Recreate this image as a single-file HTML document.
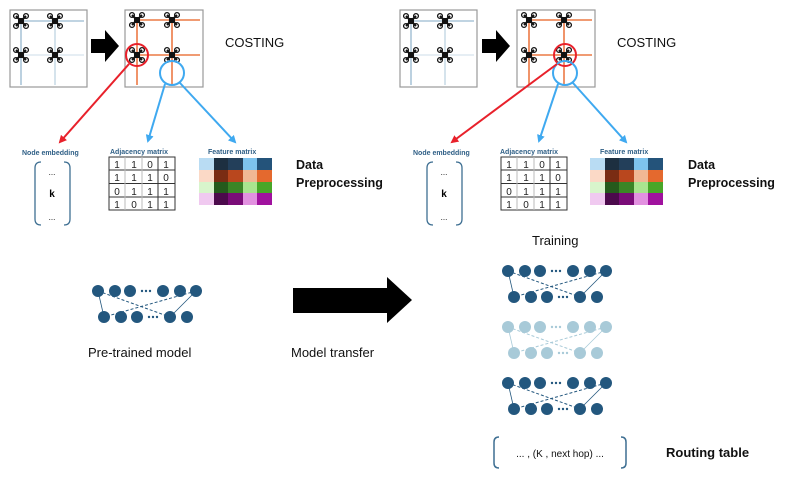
<!DOCTYPE html>
<html><head><meta charset="utf-8"><style>
html,body{margin:0;padding:0;background:#fff;}
svg{display:block;}
text{font-family:"Liberation Sans","DejaVu Sans",sans-serif;}
</style></head><body>
<svg width="786" height="480" viewBox="0 0 786 480" xmlns="http://www.w3.org/2000/svg">
<defs>
  <g id="drone">
    <line x1="-5" y1="-5" x2="5" y2="5" stroke="#111" stroke-width="2"/>
    <line x1="-5" y1="5" x2="5" y2="-5" stroke="#111" stroke-width="2"/>
    <rect x="-3" y="-3" width="6" height="6" fill="#111"/>
    <circle cx="-5" cy="-5" r="2.4" fill="none" stroke="#111" stroke-width="1.3"/>
    <circle cx="5" cy="-5" r="2.4" fill="none" stroke="#111" stroke-width="1.3"/>
    <circle cx="-5" cy="5" r="2.4" fill="none" stroke="#111" stroke-width="1.3"/>
    <circle cx="5" cy="5" r="2.4" fill="none" stroke="#111" stroke-width="1.3"/>
  </g>
  <marker id="ar" markerWidth="8" markerHeight="8" refX="6" refY="4" orient="auto" markerUnits="userSpaceOnUse"><path d="M0,0 L8,4 L0,8 z" fill="#e8212b"/></marker>
  <marker id="ab" markerWidth="8" markerHeight="8" refX="6" refY="4" orient="auto" markerUnits="userSpaceOnUse"><path d="M0,0 L8,4 L0,8 z" fill="#3fa9f0"/></marker>
  <g id="grid1">
    <rect x="0" y="0" width="77" height="77" fill="#fff" stroke="#999" stroke-width="1.2"/>
    <line x1="11" y1="11" x2="74" y2="11" stroke="#9bbad0" stroke-width="1.2"/>
    <line x1="11" y1="45" x2="74" y2="45" stroke="#d6e4ee" stroke-width="1.2"/>
    <line x1="11" y1="11" x2="11" y2="75" stroke="#8fb2cc" stroke-width="1.2"/>
    <line x1="45" y1="11" x2="45" y2="75" stroke="#b9d0e0" stroke-width="1.2"/>
    <use href="#drone" x="11" y="11"/><use href="#drone" x="45" y="11"/>
    <use href="#drone" x="11" y="45"/><use href="#drone" x="45" y="45"/>
  </g>
  <g id="grid2">
    <rect x="0" y="0" width="78" height="77" fill="#fff" stroke="#999" stroke-width="1.2"/>
    <line x1="12" y1="10" x2="75" y2="10" stroke="#ec7a45" stroke-width="1.6"/>
    <line x1="12" y1="45" x2="75" y2="45" stroke="#ec7a45" stroke-width="1.6"/>
    <line x1="12" y1="10" x2="12" y2="75" stroke="#ec7a45" stroke-width="1.6"/>
    <line x1="47" y1="10" x2="47" y2="75" stroke="#ec7a45" stroke-width="1.6"/>
    <use href="#drone" x="12" y="10"/><use href="#drone" x="47" y="10"/>
    <use href="#drone" x="12" y="45"/><use href="#drone" x="47" y="45"/>
  </g>
  <g id="bigarrow"><path d="M0,9 L14,9 L14,0 L28,16 L14,32 L14,23 L0,23 z" fill="#000"/></g>
  <g id="adj" font-size="10" fill="#222">
    <rect x="0" y="0" width="66" height="53" fill="#fff" stroke="#333" stroke-width="1"/>
    <line x1="0" y1="13" x2="66" y2="13" stroke="#333"/><line x1="0" y1="26.5" x2="66" y2="26.5" stroke="#333"/><line x1="0" y1="40" x2="66" y2="40" stroke="#333"/>
    <line x1="16" y1="0" x2="16" y2="53" stroke="#bbb"/><line x1="33" y1="0" x2="33" y2="53" stroke="#bbb"/><line x1="49" y1="0" x2="49" y2="53" stroke="#333"/>
  </g>
  <g id="feat">
    <rect x="0" y="0" width="15" height="12" fill="#b9dcf3"/><rect x="15" y="0" width="14" height="12" fill="#1d2f40"/><rect x="29" y="0" width="15" height="12" fill="#233f5a"/><rect x="44" y="0" width="14" height="12" fill="#7ec3ee"/><rect x="58" y="0" width="15" height="12" fill="#24537a"/>
    <rect x="0" y="12" width="15" height="12" fill="#fbd9c6"/><rect x="15" y="12" width="14" height="12" fill="#7a2c13"/><rect x="29" y="12" width="15" height="12" fill="#b9471e"/><rect x="44" y="12" width="14" height="12" fill="#f1b894"/><rect x="58" y="12" width="15" height="12" fill="#e4692e"/>
    <rect x="0" y="24" width="15" height="11" fill="#d8f5cc"/><rect x="15" y="24" width="14" height="11" fill="#255a1c"/><rect x="29" y="24" width="15" height="11" fill="#3b8526"/><rect x="44" y="24" width="14" height="11" fill="#a9e58f"/><rect x="58" y="24" width="15" height="11" fill="#48a628"/>
    <rect x="0" y="35" width="15" height="12" fill="#f0c9f0"/><rect x="15" y="35" width="14" height="12" fill="#4c0a4c"/><rect x="29" y="35" width="15" height="12" fill="#7a0c78"/><rect x="44" y="35" width="14" height="12" fill="#e291e0"/><rect x="58" y="35" width="15" height="12" fill="#a0129e"/>
  </g>
  <g id="bracket" fill="none" stroke="#3e6f92" stroke-width="1.3">
    <path d="M6,0 Q0,0 0,6 L0,57 Q0,63 6,63"/>
    <path d="M29,0 Q35,0 35,6 L35,57 Q35,63 29,63"/>
  </g>
  <g id="net">
    <line x1="0" y1="0" x2="6" y2="26" stroke="currentColor" stroke-width="0.8"/>
    <line x1="0" y1="0" x2="72" y2="26" stroke="currentColor" stroke-width="1" stroke-dasharray="3,2"/>
    <line x1="98" y1="0" x2="6" y2="26" stroke="currentColor" stroke-width="1" stroke-dasharray="3,2"/>
    <line x1="98" y1="0" x2="72" y2="26" stroke="currentColor" stroke-width="0.8"/>
    <g fill="currentColor">
      <circle cx="0" cy="0" r="6"/><circle cx="17" cy="0" r="6"/><circle cx="32" cy="0" r="6"/>
      <circle cx="65" cy="0" r="6"/><circle cx="82" cy="0" r="6"/><circle cx="98" cy="0" r="6"/>
      <circle cx="6" cy="26" r="6"/><circle cx="23" cy="26" r="6"/><circle cx="39" cy="26" r="6"/>
      <circle cx="72" cy="26" r="6"/><circle cx="89" cy="26" r="6"/>
      <circle cx="44" cy="0" r="1.2"/><circle cx="48" cy="0" r="1.2"/><circle cx="52" cy="0" r="1.2"/>
      <circle cx="51" cy="26" r="1.2"/><circle cx="55" cy="26" r="1.2"/><circle cx="59" cy="26" r="1.2"/>
    </g>
  </g>
</defs>

<!-- LEFT PANEL -->
<use href="#grid1" x="10" y="10"/>
<use href="#bigarrow" x="91" y="30"/>
<use href="#grid2" x="125" y="10"/>
<circle cx="137" cy="55" r="11" fill="none" stroke="#e8212b" stroke-width="2"/>
<circle cx="172" cy="73" r="12" fill="none" stroke="#3fa9f0" stroke-width="2"/>
<line x1="129" y1="64" x2="60" y2="142" stroke="#e8212b" stroke-width="2" marker-end="url(#ar)"/>
<line x1="165" y1="84" x2="148" y2="141" stroke="#3fa9f0" stroke-width="2" marker-end="url(#ab)"/>
<line x1="180" y1="83" x2="235" y2="142" stroke="#3fa9f0" stroke-width="2" marker-end="url(#ab)"/>
<text x="225" y="47" font-size="13" fill="#111">COSTING</text>
<text x="22" y="155" font-size="7" font-weight="bold" fill="#2f5f86">Node embedding</text>
<text x="110" y="154" font-size="7" font-weight="bold" fill="#2f5f86">Adjacency matrix</text>
<text x="208" y="154" font-size="7" font-weight="bold" fill="#2f5f86">Feature matrix</text>
<use href="#bracket" x="35" y="162"/>
<text x="52" y="175" font-size="8" text-anchor="middle">...</text>
<text x="52" y="197" font-size="10" font-weight="bold" text-anchor="middle">k</text>
<text x="52" y="220" font-size="8" text-anchor="middle">...</text>
<use href="#adj" x="109" y="157"/>
<g font-size="10" fill="#222" text-anchor="middle">
<text x="117" y="168">1</text><text x="134" y="168">1</text><text x="150" y="168">0</text><text x="166" y="168">1</text>
<text x="117" y="181">1</text><text x="134" y="181">1</text><text x="150" y="181">1</text><text x="166" y="181">0</text>
<text x="117" y="195">0</text><text x="134" y="195">1</text><text x="150" y="195">1</text><text x="166" y="195">1</text>
<text x="117" y="208">1</text><text x="134" y="208">0</text><text x="150" y="208">1</text><text x="166" y="208">1</text>
</g>
<use href="#feat" x="199" y="158"/>
<text x="296" y="169" font-size="12.5" font-weight="bold" fill="#111">Data</text>
<text x="296" y="187" font-size="12.5" font-weight="bold" fill="#111">Preprocessing</text>

<!-- RIGHT PANEL -->
<use href="#grid1" x="400" y="10"/>
<use href="#bigarrow" x="482" y="30"/>
<use href="#grid2" x="517" y="10"/>
<circle cx="565" cy="55" r="11" fill="none" stroke="#e8212b" stroke-width="2"/>
<circle cx="565" cy="73" r="12" fill="none" stroke="#3fa9f0" stroke-width="2"/>
<line x1="557" y1="64" x2="452" y2="142" stroke="#e8212b" stroke-width="2" marker-end="url(#ar)"/>
<line x1="558" y1="84" x2="539" y2="141" stroke="#3fa9f0" stroke-width="2" marker-end="url(#ab)"/>
<line x1="573" y1="83" x2="626" y2="142" stroke="#3fa9f0" stroke-width="2" marker-end="url(#ab)"/>
<text x="617" y="47" font-size="13" fill="#111">COSTING</text>
<text x="413" y="155" font-size="7" font-weight="bold" fill="#2f5f86">Node embedding</text>
<text x="500" y="154" font-size="7" font-weight="bold" fill="#2f5f86">Adjacency matrix</text>
<text x="600" y="154" font-size="7" font-weight="bold" fill="#2f5f86">Feature matrix</text>
<use href="#bracket" x="427" y="162"/>
<text x="444" y="175" font-size="8" text-anchor="middle">...</text>
<text x="444" y="197" font-size="10" font-weight="bold" text-anchor="middle">k</text>
<text x="444" y="220" font-size="8" text-anchor="middle">...</text>
<use href="#adj" x="501" y="157"/>
<g font-size="10" fill="#222" text-anchor="middle">
<text x="509" y="168">1</text><text x="526" y="168">1</text><text x="542" y="168">0</text><text x="558" y="168">1</text>
<text x="509" y="181">1</text><text x="526" y="181">1</text><text x="542" y="181">1</text><text x="558" y="181">0</text>
<text x="509" y="195">0</text><text x="526" y="195">1</text><text x="542" y="195">1</text><text x="558" y="195">1</text>
<text x="509" y="208">1</text><text x="526" y="208">0</text><text x="542" y="208">1</text><text x="558" y="208">1</text>
</g>
<use href="#feat" x="590" y="158"/>
<text x="688" y="169" font-size="12.5" font-weight="bold" fill="#111">Data</text>
<text x="688" y="187" font-size="12.5" font-weight="bold" fill="#111">Preprocessing</text>

<!-- Middle -->
<use href="#net" x="98" y="291" style="color:#23577e"/>
<path d="M293,288 L387,288 L387,277 L412,300 L387,323 L387,313 L293,313 z" fill="#000"/>
<text x="88" y="357" font-size="13" fill="#111">Pre-trained model</text>
<text x="291" y="357" font-size="13" fill="#111">Model transfer</text>

<text x="532" y="245" font-size="13" fill="#111">Training</text>
<use href="#net" x="508" y="271" style="color:#23577e"/>
<use href="#net" x="508" y="327" style="color:#a8cad8"/>
<use href="#net" x="508" y="383" style="color:#23577e"/>

<g fill="none" stroke="#3e6f92" stroke-width="1.5">
<path d="M499,437 Q494,437 494,442 L494,463 Q494,468 499,468"/>
<path d="M621,437 Q626,437 626,442 L626,463 Q626,468 621,468"/>
</g>
<text x="560" y="457" font-size="10" text-anchor="middle" fill="#111">... , (K , next hop) ...</text>
<text x="666" y="457" font-size="13" font-weight="bold" fill="#111">Routing table</text>
</svg>
</body></html>
